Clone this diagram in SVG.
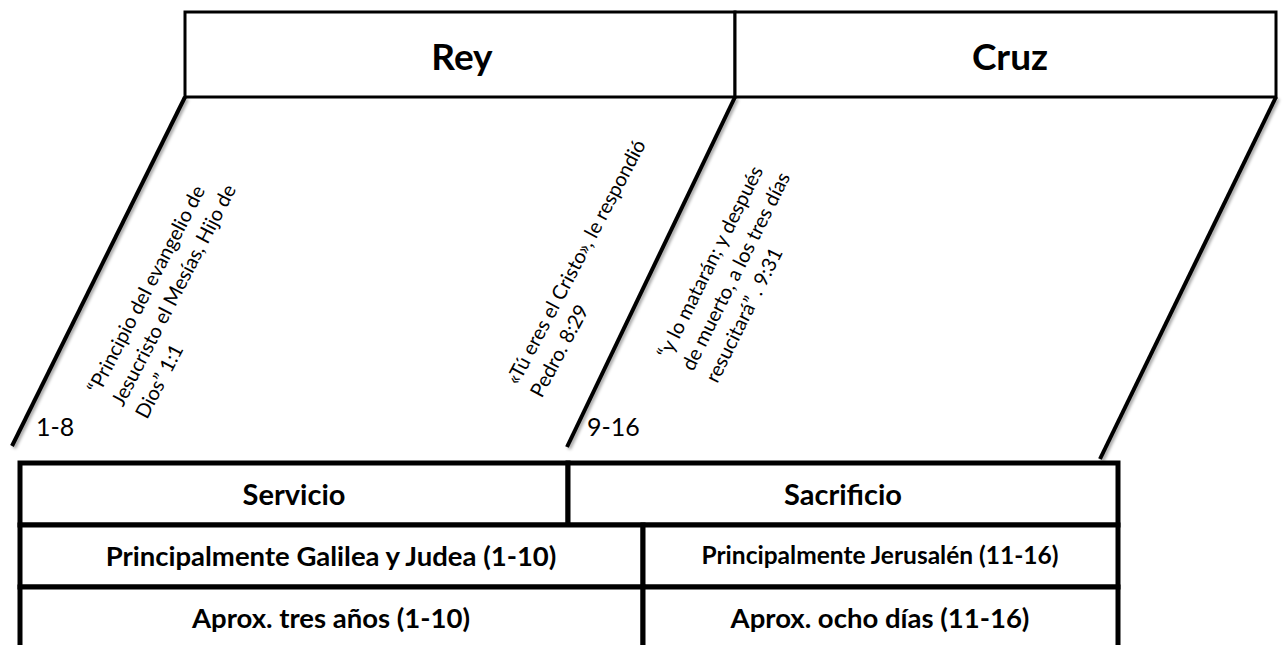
<svg xmlns="http://www.w3.org/2000/svg" width="1283" height="645" viewBox="0 0 1283 645">
  <style>
    .box { fill: #ffffff; stroke: #000000; stroke-width: 3; }
    .cell { fill: #ffffff; stroke: #000000; stroke-width: 5; }
    .title { font-family: Lato, "Liberation Sans", sans-serif; font-weight: bold; font-size: 37px; fill: #000; text-anchor: middle; }
    .th { font-family: Lato, "Liberation Sans", sans-serif; font-weight: bold; font-size: 29px; fill: #000; text-anchor: middle; }
    .td { font-family: Lato, "Liberation Sans", sans-serif; font-weight: bold; font-size: 27.5px; fill: #000; text-anchor: middle; }
    .td2 { font-family: Lato, "Liberation Sans", sans-serif; font-weight: bold; font-size: 24.5px; fill: #000; text-anchor: middle; }
    .quote { font-family: Lato, "Liberation Sans", sans-serif; font-size: 20px; fill: #000; }
    .num { font-family: Lato, "Liberation Sans", sans-serif; font-size: 25px; fill: #000; }
    .conn { stroke: #000; stroke-width: 4; fill: none; stroke-linecap: butt; filter: url(#sh); }
  </style>
  <defs>
    <filter id="sh" x="-20%" y="-20%" width="140%" height="140%">
      <feDropShadow dx="2" dy="2" stdDeviation="1.5" flood-color="#000" flood-opacity="0.35"/>
    </filter>
  </defs>
  <rect width="1283" height="645" fill="#ffffff"/>

  <g id="connectors">
    <line class="conn" x1="185" y1="97" x2="12" y2="446"/>
    <line class="conn" x1="735" y1="97" x2="567" y2="447"/>
    <line class="conn" x1="1276" y1="97" x2="1100" y2="459"/>
  </g>

  <g id="rey">
    <rect class="box" x="185" y="12" width="550" height="85"/>
    <text class="title" x="462" y="70">Rey</text>
  </g>
  <g id="cruz">
    <rect class="box" x="735" y="12" width="541" height="85"/>
    <text class="title" x="1010" y="70">Cruz</text>
  </g>

  <g id="quote-1-1">
    <text class="quote" transform="translate(99,395) rotate(-62.5)">
      <tspan x="0" y="0">“Principio del evangelio de</tspan>
      <tspan x="0" dy="27">Jesucristo el Mesías,  Hijo de</tspan>
      <tspan x="0" dy="27">Dios” 1:1</tspan>
    </text>
  </g>
  <g id="quote-8-29">
    <text class="quote" transform="translate(518,386) rotate(-62)">
      <tspan x="0" y="0">«Tú eres el Cristo», le respondió</tspan>
      <tspan x="0" dy="27">Pedro. 8:29</tspan>
    </text>
  </g>
  <g id="quote-9-31">
    <text class="quote" transform="translate(669,360) rotate(-63.5)">
      <tspan x="0" y="0">“y lo matarán; y después</tspan>
      <tspan x="0" dy="27">de muerto, a los tres días</tspan>
      <tspan x="0" dy="27">resucitará” . 9:31</tspan>
    </text>
  </g>

  <g id="label-1-8">
    <text class="num" x="36" y="436">1-8</text>
  </g>
  <g id="label-9-16">
    <text class="num" x="587" y="436">9-16</text>
  </g>

  <g id="table">
    <g id="servicio">
      <rect class="cell" x="20" y="463" width="548" height="62"/>
      <text class="th" x="294" y="505">Servicio</text>
    </g>
    <g id="sacrificio">
      <rect class="cell" x="568" y="463" width="550" height="62"/>
      <text class="th" x="843" y="505">Sacrificio</text>
    </g>
    <g id="galilea">
      <rect class="cell" x="20" y="525" width="623" height="62"/>
      <text class="td" x="331" y="566">Principalmente Galilea y Judea (1-10)</text>
    </g>
    <g id="jerusalen">
      <rect class="cell" x="643" y="525" width="475" height="62"/>
      <text class="td2" x="880" y="564">Principalmente Jerusalén (11-16)</text>
    </g>
    <g id="tres-anos">
      <rect class="cell" x="20" y="587" width="623" height="80"/>
      <text class="td" x="331" y="628">Aprox. tres años (1-10)</text>
    </g>
    <g id="ocho-dias">
      <rect class="cell" x="643" y="587" width="475" height="80"/>
      <text class="td" x="880" y="628">Aprox. ocho días (11-16)</text>
    </g>
  </g>
</svg>
